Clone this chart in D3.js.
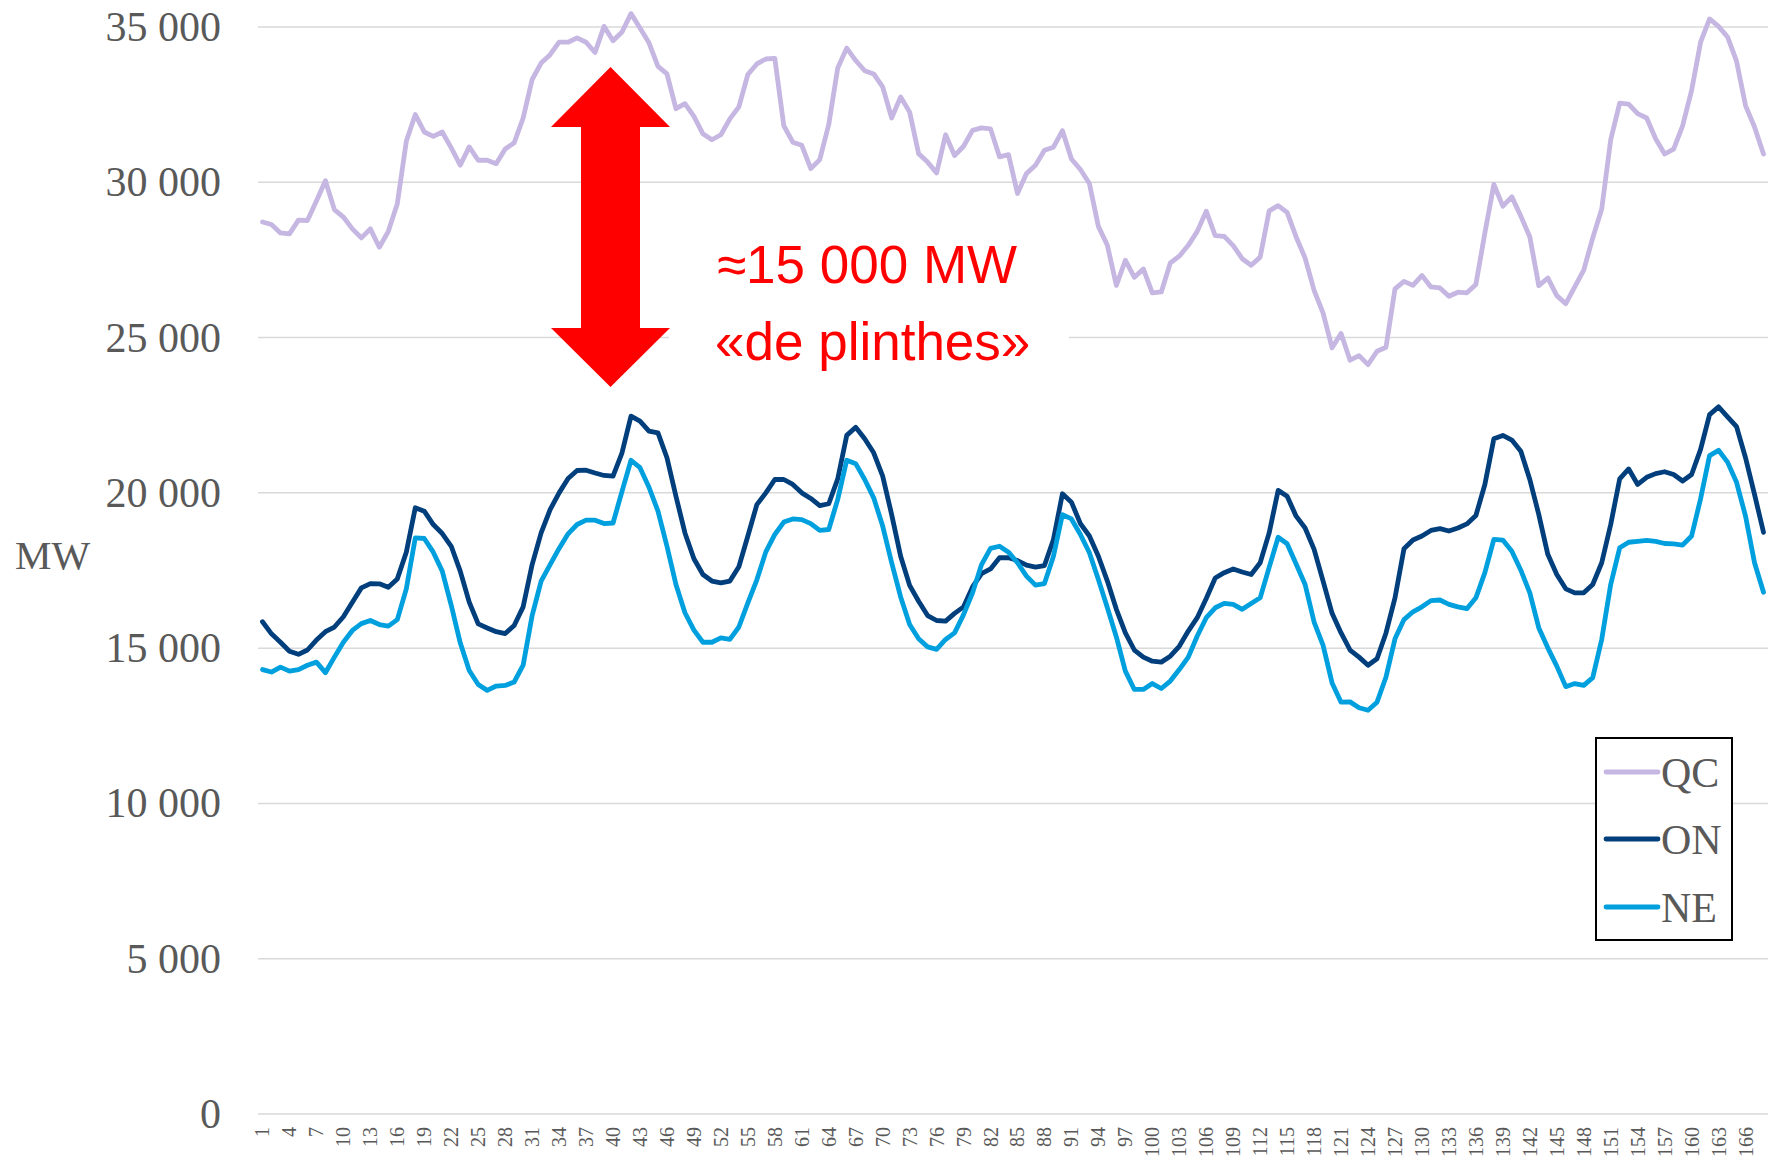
<!DOCTYPE html>
<html>
<head>
<meta charset="utf-8">
<script src="https://cdn.jsdelivr.net/npm/d3@7"></script>
<style>
html,body{margin:0;padding:0;background:#fff;}
svg{display:block;}
</style>
</head>
<body>
<svg id="chart" width="1777" height="1162"></svg>
<script>
// ---------- DATA ----------
const seriesNames = ["QC", "ON", "NE"];
const seriesColors = ["#C5B6E2", "#003E7C", "#00A0DF"];

const qc = [28720,28640,28370,28340,28780,28770,29400,30050,29120,28880,
28500,28210,28500,27910,28420,29310,31320,32180,31620,31480,
31620,31110,30550,31140,30710,30710,30600,31070,31270,32070,
33310,33840,34110,34510,34510,34650,34510,34180,35020,34560,
34840,35430,34970,34490,33730,33490,32370,32530,32120,31560,
31370,31530,32040,32430,33470,33810,33970,33990,31820,31290,
31190,30440,30730,31860,33680,34320,33920,33590,33490,33070,
32070,32750,32260,30920,30650,30300,31530,30860,31160,31670,
31750,31720,30820,30890,29640,30280,30550,31030,31130,31660,
30750,30410,29960,28580,27970,26680,27490,26940,27210,26440,
26470,27400,27620,27970,28420,29070,28280,28260,27960,27540,
27330,27590,29080,29250,29030,28240,27560,26520,25790,24670,
25130,24270,24420,24130,24560,24690,26570,26810,26680,27000,
26630,26600,26330,26460,26440,26710,28370,29930,29230,29530,
28910,28240,26670,26920,26350,26090,26630,27170,28210,29140,
31370,32550,32520,32210,32070,31400,30910,31070,31820,32960,
34510,35260,35020,34680,33900,32470,31780,30910];

const on = [15850,15460,15190,14900,14800,14940,15260,15530,15680,16010,
16480,16940,17080,17070,16960,17230,18090,19520,19410,18980,
18690,18280,17480,16480,15780,15650,15530,15470,15730,16330,
17690,18710,19460,20000,20460,20720,20730,20640,20560,20540,
21290,22470,22310,21990,21930,21130,19890,18710,17880,17370,
17160,17100,17160,17620,18610,19620,20000,20430,20430,20270,
20000,19820,19590,19650,20450,21850,22110,21740,21290,20540,
19300,17960,17020,16510,16050,15890,15870,16120,16330,16970,
17400,17550,17910,17910,17820,17670,17610,17660,18500,19970,
19700,19010,18610,17960,17160,16250,15490,14940,14710,14580,
14550,14740,15060,15550,15980,16600,17260,17430,17550,17450,
17370,17750,18710,20080,19890,19250,18870,18180,17160,16120,
15490,14940,14710,14450,14660,15490,16620,18200,18480,18610,
18790,18850,18770,18870,19000,19270,20270,21740,21850,21700,
21340,20430,19300,18020,17370,16910,16780,16780,17050,17750,
18980,20450,20770,20270,20500,20620,20680,20590,20380,20590,
21400,22520,22770,22450,22130,21130,19950,18730];

const ne = [14310,14230,14390,14260,14310,14450,14550,14210,14710,15190,
15570,15790,15890,15760,15710,15920,16910,18550,18530,18090,
17480,16380,15170,14280,13830,13640,13780,13800,13910,14450,
16050,17160,17690,18210,18680,18980,19120,19120,19010,19030,
20050,21050,20810,20180,19410,18280,17050,16140,15580,15190,
15190,15330,15280,15680,16460,17200,18100,18660,19060,19160,
19140,19010,18790,18820,19790,21050,20940,20430,19840,18930,
17750,16650,15760,15300,15040,14960,15280,15490,16080,16780,
17690,18210,18280,18090,17750,17320,17030,17080,17960,19300,
19160,18660,18070,17210,16300,15360,14260,13670,13670,13860,
13700,13940,14310,14710,15390,15980,16300,16440,16410,16250,
16440,16620,17600,18570,18360,17710,17050,15840,15090,13880,
13260,13270,13080,13000,13260,14070,15300,15920,16170,16330,
16530,16550,16410,16330,16270,16620,17430,18500,18480,18120,
17510,16780,15650,15010,14420,13760,13860,13800,14050,15280,
17050,18230,18410,18440,18470,18440,18370,18360,18320,18610,
19810,21200,21370,20990,20340,19250,17750,16800];

const hours = d3.range(1, 169);
const xTickLabels = d3.range(1, 169, 3);
const yTicks = [0, 5000, 10000, 15000, 20000, 25000, 30000, 35000];
const yAxisTitle = "MW";
const annotationLines = ["≈15 000 MW", "«de plinthes»"];

// ---------- CHART ----------
(function () {
const svg = d3.select("#chart");
const pLeft = 258, pRight = 1768, pTop = 27, pBottom = 1114;

const x = d3.scaleBand().domain(hours).range([pLeft, pRight]).paddingInner(0).paddingOuter(0);
const xc = h => x(h) + x.bandwidth() / 2;
const y = d3.scaleLinear().domain([0, 35000]).range([pBottom, pTop]);

const fr = d3.formatLocale({decimal: ",", thousands: " ", grouping: [3], currency: ["", ""]});
const fmt = fr.format(",d");

// gridlines
svg.append("g").selectAll("line").data(yTicks).join("line")
  .attr("x1", pLeft).attr("x2", pRight)
  .attr("y1", d => y(d)).attr("y2", d => y(d))
  .attr("stroke", "#D9D9D9").attr("stroke-width", 1.5);

// y axis labels
const yAxis = d3.axisLeft(y).tickValues(yTicks).tickFormat(fmt).tickSize(0).tickPadding(37);
const gy = svg.append("g").attr("transform", `translate(${pLeft},0)`).call(yAxis);
gy.select(".domain").remove();
gy.selectAll("text")
  .attr("font-family", "'Liberation Serif','Times New Roman',serif")
  .attr("font-size", 42).attr("fill", "#595959");

// y axis title
svg.append("text").attr("x", 15).attr("y", 555).attr("dy", "0.35em")
  .attr("font-family", "'Liberation Serif','Times New Roman',serif")
  .attr("font-size", 41).attr("fill", "#595959").text(yAxisTitle);

// x axis labels
const xAxis = d3.axisBottom(x).tickValues(xTickLabels).tickSize(0);
const gx = svg.append("g").attr("transform", `translate(0,${pBottom})`).call(xAxis);
gx.select(".domain").remove();
gx.selectAll("text")
  .attr("font-family", "'Liberation Serif','Times New Roman',serif")
  .attr("font-size", 20).attr("fill", "#595959")
  .attr("text-anchor", "end")
  .attr("transform", "rotate(-90)")
  .attr("x", -13).attr("y", 0).attr("dy", "0.35em");

// lines
const seriesData = [qc, on, ne];
const line = d3.line().x((d, i) => xc(hours[i])).y(d => y(d));
svg.append("g").selectAll("path").data(seriesData).join("path")
  .attr("d", d => line(d))
  .attr("fill", "none")
  .attr("stroke", (d, i) => seriesColors[i])
  .attr("stroke-width", 4.8)
  .attr("stroke-linejoin", "round")
  .attr("stroke-linecap", "round");

// legend
const lg = svg.append("g");
lg.append("rect").attr("x", 1596).attr("y", 738).attr("width", 136).attr("height", 202)
  .attr("fill", "#fff").attr("stroke", "#000").attr("stroke-width", 2);
const legY = [772, 839, 907];
seriesNames.forEach((n, i) => {
  lg.append("line").attr("x1", 1606).attr("x2", 1658).attr("y1", legY[i]).attr("y2", legY[i])
    .attr("stroke", seriesColors[i]).attr("stroke-width", 4.8).attr("stroke-linecap", "round");
  lg.append("text").attr("x", 1661).attr("y", legY[i]).attr("dy", "0.35em")
    .attr("font-family", "'Liberation Serif','Times New Roman',serif")
    .attr("font-size", 42).attr("fill", "#595959").text(n);
});

// annotation: text box (white background hides gridline)
svg.append("rect").attr("x", 669).attr("y", 222).attr("width", 400).attr("height", 160).attr("fill", "#fff");
svg.append("text").attr("x", 717).attr("y", 283)
  .attr("font-family", "'Liberation Sans',Arial,sans-serif")
  .attr("font-size", 53).attr("fill", "#FF0000").text(annotationLines[0]);
svg.append("text").attr("x", 715).attr("y", 360)
  .attr("font-family", "'Liberation Sans',Arial,sans-serif")
  .attr("font-size", 53).attr("fill", "#FF0000").text(annotationLines[1]);

// double arrow
const ax = 610.5, halfHead = 59.5, halfShaft = 29.5;
const tipTop = 67, baseTop = 127, baseBot = 328, tipBot = 387;
const arrowPts = [
  [ax, tipTop], [ax + halfHead, baseTop], [ax + halfShaft, baseTop], [ax + halfShaft, baseBot],
  [ax + halfHead, baseBot], [ax, tipBot], [ax - halfHead, baseBot], [ax - halfShaft, baseBot],
  [ax - halfShaft, baseTop], [ax - halfHead, baseTop]
];
svg.append("path").attr("d", d3.line()(arrowPts) + "Z").attr("fill", "#FF0000");
})();
</script>
</body>
</html>
